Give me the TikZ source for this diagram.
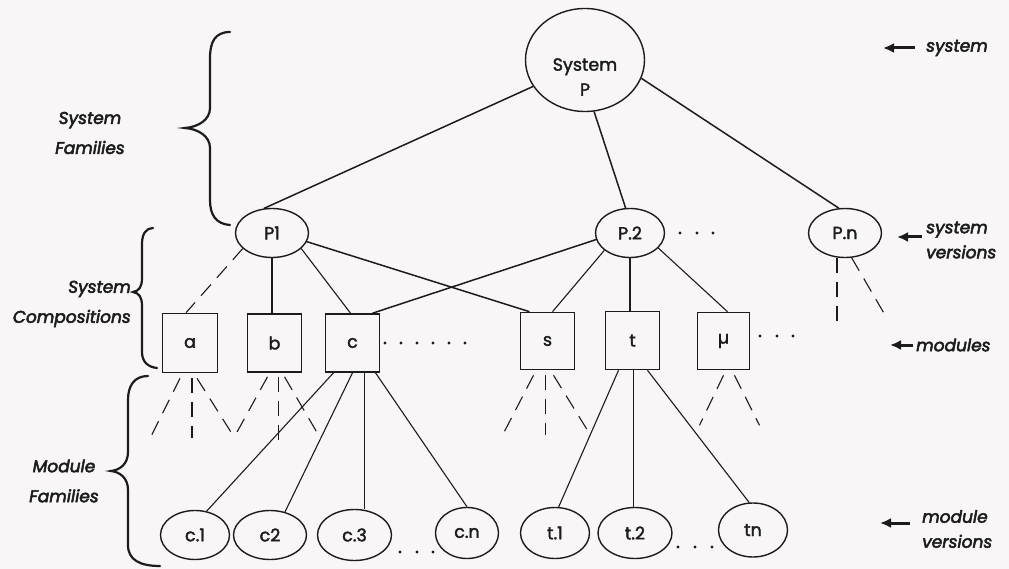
\documentclass[tikz,border=0pt]{standalone}
\usepackage{fontspec}
\setmainfont{Poppins}
\newfontfamily\nodeface{Poppins}[FakeBold=2]
\newfontfamily\noteface{Poppins}[FakeBold=3]
\usetikzlibrary{shapes.geometric,arrows.meta,calc}
\definecolor{paper}{RGB}{248,246,247}
\definecolor{ink}{RGB}{28,28,28}
\begin{document}
\begin{tikzpicture}[x=1pt,y=-1pt,
  nodefont/.style={font=\nodeface\fontsize{17.5}{25}\selectfont, text=ink},
  vernode/.style={ellipse, draw=ink, line width=1.4pt, inner sep=0pt, nodefont},
  modbox/.style={rectangle, draw=ink, line width=1.6pt, inner sep=0pt,
    minimum width=54pt, minimum height=58pt, nodefont},
  link/.style={draw=ink, line width=1.5pt},
  thinlink/.style={draw=ink, line width=1.1pt},
  optlink/.style={draw=ink, line width=1.1pt, dash pattern=on 15pt off 9pt},
  bracestroke/.style={draw=ink, line width=2.2pt, line cap=round},
  famlabel/.style={font=\noteface\itshape\fontsize{17}{30}\selectfont, text=ink, inner sep=0pt},
  annlabel/.style={font=\noteface\itshape\fontsize{17}{25}\selectfont, text=ink, inner sep=0pt,
    anchor=west, align=left},
  pointer/.style={draw=ink, line width=3pt, -{Latex[length=11pt,width=10pt]}},
  dotmark/.style={fill=ink}
]
\fill[paper] (0,0) rectangle (1009,569);
\useasboundingbox (0,0) rectangle (1009,569);

% system and its versions
\node[vernode, minimum width=119pt, minimum height=103pt,
  label={[nodefont, align=center, yshift=-17pt]center:System\\P}] (SysP) at (585,60) {};
\node[vernode, minimum width=73pt, minimum height=49pt] (P1) at (272,233) {P1};
\node[vernode, minimum width=69pt, minimum height=49pt] (P2) at (630,233) {P.2};
\node[vernode, minimum width=73pt, minimum height=49pt] (Pn) at (845,233) {P.n};

% modules
\node[modbox, minimum width=55pt, minimum height=59pt] (a) at (190,343) {a};
\node[modbox] (b) at (274.5,343) {b};
\node[modbox] (c) at (352.5,343) {c};
\node[modbox, minimum height=57pt] (s) at (547.5,341) {s};
\node[modbox] (t) at (632.5,340.5) {t};
\node[modbox, minimum width=52pt, minimum height=57pt] (mu) at (723.5,341) {µ};

% module versions
\node[vernode, minimum width=69pt, minimum height=49pt] (c1) at (195,535) {c.1};
\node[vernode, minimum width=73pt, minimum height=49pt] (c2) at (270,535) {c2};
\node[vernode, minimum width=74pt, minimum height=51pt] (c3) at (354.5,535) {c.3};
\node[vernode, minimum width=63pt, minimum height=51pt] (cn) at (467,533) {c.n};
\node[vernode, minimum width=69pt, minimum height=51pt] (t1) at (555,533) {t.1};
\node[vernode, minimum width=74pt, minimum height=51pt] (t2) at (635,533) {t.2};
\node[vernode, minimum width=69pt, minimum height=54pt] (tn) at (753,530) {tn};

% system -> system versions
\draw[link] (SysP.207) -- (P1.108);
\draw[link] (SysP.280) -- (P2.100);
\draw[link] (SysP.342) -- (Pn.104);

% system versions -> modules
\draw[optlink] (P1.208) -- ([xshift=-4pt]a.north);
\draw[thinlink] (P1.south) -- (P1.south |- b.north);
\draw[thinlink] (P1.332) -- ([xshift=-2pt]c.north);
\draw[link] (P1.346) -- ([xshift=-18pt]s.north);
\draw[link] (P2.191) -- ([xshift=20pt]c.north);
\draw[thinlink] (P2.214) -- ([xshift=5pt]s.north);
\draw[thinlink] (P2.south) -- (P2.south |- t.north);
\draw[thinlink] (P2.332) -- ([xshift=4pt]mu.north);
\draw[optlink] (Pn.252) -- ++(0,68);
\draw[optlink] (Pn.285) -- ++(35,60);

% unexpanded module families
\draw[optlink] ([xshift=-10pt,yshift=-5pt]a.south) -- ++(-30,60);
\draw[optlink] ([xshift=2pt,yshift=-5pt]a.south) -- ++(0,60);
\draw[optlink] ([xshift=7pt,yshift=-5pt]a.south) -- ++(36,57);
\draw[optlink] ([xshift=-7pt,yshift=-4pt]b.south) -- ++(-32,58);
\draw[optlink] ([xshift=4pt,yshift=-4pt]b.south) -- ++(0,63);
\draw[optlink] ([xshift=10pt,yshift=-4pt]b.south) -- ++(35,60);
\draw[optlink] ([xshift=-14pt,yshift=-5pt]s.south) -- ++(-30,58);
\draw[optlink] ([xshift=-2pt,yshift=-5pt]s.south) -- ++(0,60);
\draw[optlink] ([xshift=6pt,yshift=-5pt]s.south) -- ++(34,55);
\draw[optlink] ([xshift=0pt,yshift=-5pt]mu.south) -- ++(-24,50);
\draw[optlink] ([xshift=11pt,yshift=-5pt]mu.south) -- ++(25,50);

% module families of c and t
\draw[thinlink] ([xshift=-19pt]c.south) -- (c1.64);
\draw[thinlink] ([xshift=0pt]c.south) -- (c2.57);
\draw[thinlink] ([xshift=12pt]c.south) -- ([xshift=12pt]c.south |- c3.north);
\draw[thinlink] ([xshift=23pt]c.south) -- (cn.north);
\draw[thinlink] ([xshift=-14pt]t.south) -- (t1.82);
\draw[thinlink] ([xshift=1pt]t.south) -- ([xshift=1pt]t.south |- t2.north);
\draw[thinlink] ([xshift=15pt]t.south) -- (tn.98);

% ellipses of further members
\foreach \x in {385,401,417,433,449,465} \fill[dotmark] (\x,343) circle (1.7pt);
\foreach \x in {680,697,713} \fill[dotmark] (\x,233) circle (1.7pt);
\foreach \x in {760,777,793} \fill[dotmark] (\x,336) circle (1.7pt);
\foreach \x in {400,417,433} \fill[dotmark] (\x,552) circle (1.7pt);
\foreach \x in {678,695,712} \fill[dotmark] (\x,547) circle (1.7pt);

% level braces
\draw[bracestroke] (230,32) .. controls (215,32) and (210,42) .. (210,58) -- (210,108)
  .. controls (210,120) and (198,127) .. (185,128)
  .. controls (198,129) and (210,136) .. (210,148) -- (210,200)
  .. controls (210,215) and (216,224) .. (230,225);
\draw[bracestroke] (153,228) .. controls (146,228) and (142,234) .. (142,244) -- (142,278)
  .. controls (142,287) and (139,291) .. (133,292)
  .. controls (139,293) and (142,297) .. (142,306) -- (142,352)
  .. controls (142,362) and (148,367) .. (157,368);
\draw[bracestroke] (148,376) .. controls (134,376) and (128,386) .. (128,400) -- (128,452)
  .. controls (128,464) and (120,470) .. (111,471)
  .. controls (120,472) and (128,478) .. (128,490) -- (128,545)
  .. controls (128,560) and (140,566) .. (160,566);

\node[famlabel, align=center] (lblSysFam) at (90,133) {System\\Families};
\node[famlabel, align=right, anchor=east] (lblSysComp) at (131,304) {System\\Compositions};
\node[famlabel, align=center] (lblModFam) at (64,481) {Module\\Families};

% level annotations
\node[annlabel] (lblSystem) at (926,48) {system};
\node[annlabel] (lblSysVer) at (926,240) {system\\versions};
\node[annlabel] (lblModules) at (916,345) {modules};
\node[annlabel] (lblModVer) at (922,529) {module\\versions};

\draw[pointer] ([xshift=-11pt]lblSystem.west) -- ++(-32,0);
\draw[pointer] ([xshift=-4pt,yshift=3pt]lblSysVer.west) -- ++(-25,0);
\draw[pointer] ([xshift=-3pt]lblModules.west) -- ++(-23,0);
\draw[pointer] ([xshift=-12pt,yshift=6pt]lblModVer.west) -- ++(-30,0);
\end{tikzpicture}
\end{document}
